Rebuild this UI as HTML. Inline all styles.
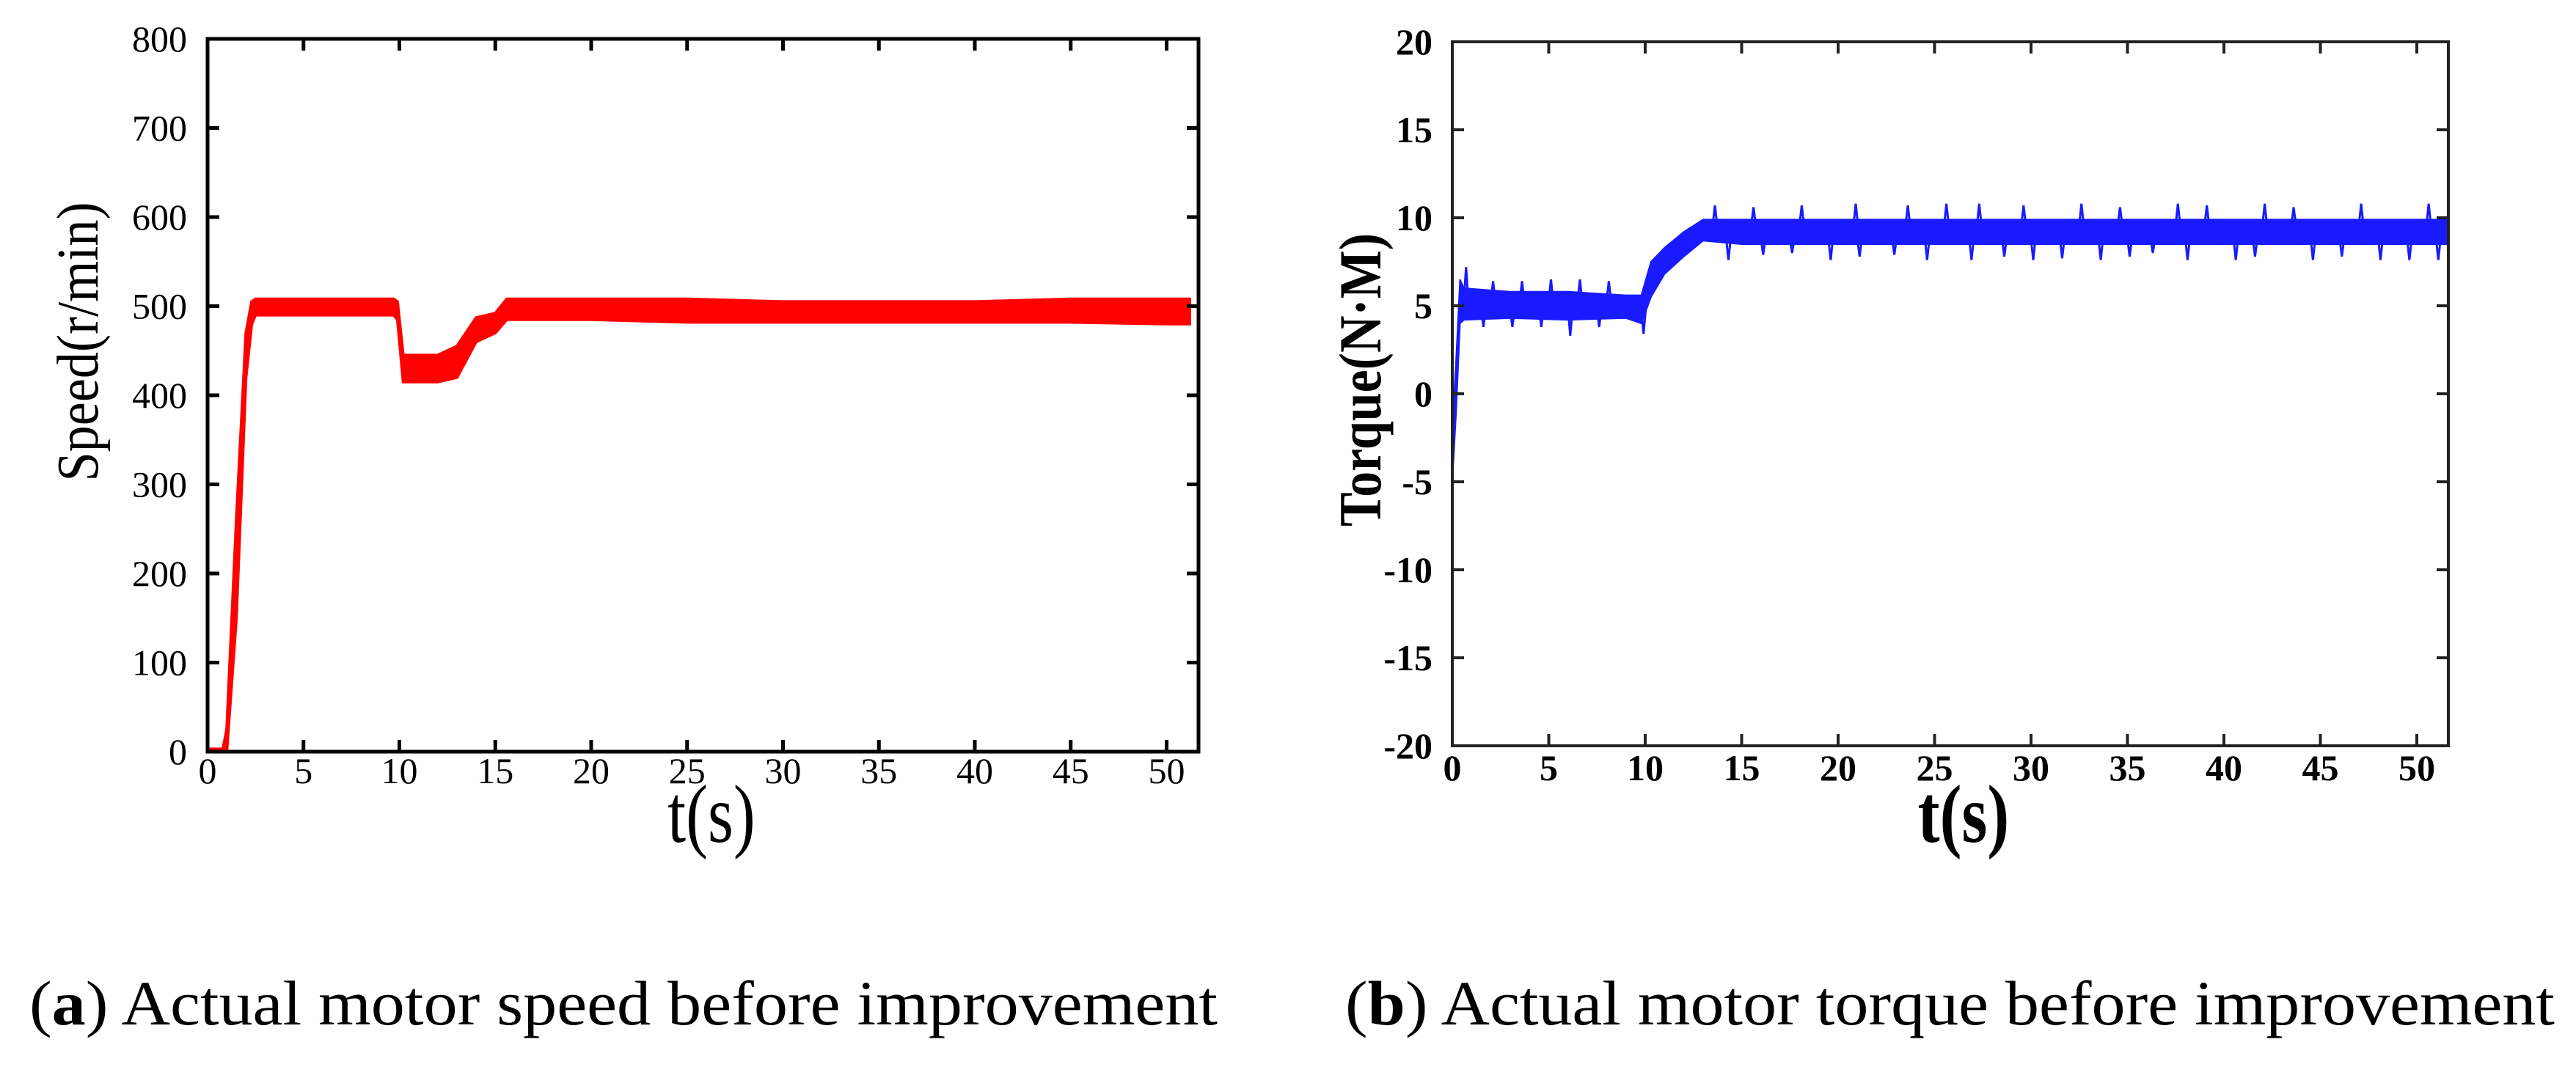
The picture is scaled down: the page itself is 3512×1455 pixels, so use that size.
<!DOCTYPE html>
<html><head><meta charset="utf-8"><style>
html,body{margin:0;padding:0;background:#fff;}
svg{display:block;}
</style></head><body>
<svg id="fig" width="3512" height="1455" viewBox="0 0 3512 1455" xmlns="http://www.w3.org/2000/svg" font-family="Liberation Serif, serif">
<rect width="3512" height="1455" fill="#fff"/>
<g id="chartA"></g>
<g id="chartB"></g>
<text x="40" y="1397" font-size="86" textLength="1620" lengthAdjust="spacingAndGlyphs">(<tspan font-weight="bold">a</tspan>) Actual motor speed before improvement</text>
<text x="1834" y="1397" font-size="86" textLength="1649" lengthAdjust="spacingAndGlyphs">(<tspan font-weight="bold">b</tspan>) Actual motor torque before improvement</text>
</svg>
<script>
// ---- data: speed chart ----
const xTicks = [0,5,10,15,20,25,30,35,40,45,50];
const speedTicks = [0,100,200,300,400,500,600,700,800];
const speedT  = [0,0.8,1.0,1.5,2.0,2.3,2.5,5,9.7,9.9,10.2,12,13,14,15,15.6,20,25,30,35,40,45,50,51.2];
const speedHi = [3,3,25,260,470,505,508,508,508,505,445,445,455,487,492,508,508,508,505,505,505,508,508,508];
const speedLo = [0,0,0,150,420,480,490,490,490,485,415,415,420,460,470,485,485,482,482,482,482,482,480,480];
// ---- data: torque chart ----
const torqueTicks = [-20,-15,-10,-5,0,5,10,15,20];
const torqueT  = [0,0.2,0.4,0.6,3,6,9,9.8,10.3,11,12,13,15,20,25,30,35,40,45,50,51.6];
const torqueHi = [-2,2,6.5,6.0,5.8,5.8,5.6,5.6,7.5,8.3,9.2,9.9,9.9,9.9,9.9,9.9,9.9,9.9,9.9,9.9,9.9];
const torqueLo = [-5,-1,4.0,4.2,4.3,4.2,4.3,4.0,5.5,6.8,7.8,8.7,8.5,8.5,8.5,8.5,8.5,8.5,8.5,8.5,8.5];
const spikeDownT = [1.5,3,4.5,6,7.5,9.8,14.2,16,17.5,19.5,21,22.8,24.5,26.8,28.5,30,31.5,33.5,35,36.2,38,40.5,41.5,44.5,46,48,49.5,51];
const spikeDownV = [3.8,3.8,3.8,3.3,3.8,3.4,7.6,7.9,8.0,7.6,7.8,7.9,7.6,7.6,7.8,7.6,7.7,7.6,7.8,8.0,7.6,7.6,7.8,7.6,7.8,7.6,7.6,7.6];
const spikeUpT = [0.6,2,3.5,5,6.5,8,13.5,15.5,18,20.8,23.5,25.5,27.2,29.5,32.5,34.5,37.5,39,42,43.5,47,50.5];
const spikeUpV = [7.2,6.4,6.4,6.5,6.5,6.4,10.7,10.6,10.7,10.8,10.7,10.8,10.8,10.7,10.8,10.6,10.8,10.7,10.8,10.6,10.8,10.8];

const NS = "http://www.w3.org/2000/svg";
function mk(tag, parent){ const e=document.createElementNS(NS,tag); parent.appendChild(e); return e; }

function drawAxes(g, L, R, T, B, xs, ys, yT, bold, lw, col, xLabY, yLabX){
  const frame = mk('rect', g);
  
  
  frame.setAttribute('x',L); frame.setAttribute('y',T);
  frame.setAttribute('width',R-L); frame.setAttribute('height',B-T);
  frame.setAttribute('fill','none'); frame.setAttribute('stroke',col); frame.setAttribute('stroke-width',lw);
  xTicks.forEach(v=>{
    const x = xs(v);
    const t1 = mk('path', g);
    
    
    t1.setAttribute('d',`M${x},${B}v-16M${x},${T}v16`); t1.setAttribute('stroke',col); t1.setAttribute('stroke-width',lw);
    const lb = mk('text', g);
    
    
    lb.setAttribute('x',x); lb.setAttribute('y',xLabY); lb.setAttribute('text-anchor','middle');
    lb.setAttribute('font-size','50'); if(bold) lb.setAttribute('font-weight','bold');
    lb.textContent = v;
  });
  yT.forEach(v=>{
    const y = ys(v);
    const t1 = mk('path', g);
    
    
    t1.setAttribute('d',`M${L},${y}h16M${R},${y}h-16`); t1.setAttribute('stroke',col); t1.setAttribute('stroke-width',lw);
    const lb = mk('text', g);
    
    
    lb.setAttribute('x',yLabX); lb.setAttribute('y',y+17); lb.setAttribute('text-anchor','end');
    lb.setAttribute('font-size','50'); if(bold) lb.setAttribute('font-weight','bold');
    lb.textContent = v;
  });
}

function band(g, ts, hi, lo, xs, ys, color, name, sw){
  let d = 'M' + ts.map((t,i)=>`${xs(t)},${ys(hi[i])}`).join('L');
  d += 'L' + ts.map((t,i)=>`${xs(t)},${ys(lo[i])}`).reverse().join('L') + 'Z';
  const p = mk('path', g);
  
  
  p.setAttribute('d', d); p.setAttribute('fill', color); p.setAttribute('stroke', color); p.setAttribute('stroke-width',sw);
  return p;
}

// ---- chart A ----
(function(){
  const g = document.getElementById('chartA');
  const L=283, R=1634, T=53, B=1025;
  const xs = v => L + v*26.15;
  const ys = v => B - v*(B-T)/800;
  band(g, speedT, speedHi, speedLo, xs, ys, '#ff0000', 'speed-series', 4);
  drawAxes(g, L, R, T, B, xs, ys, speedTicks, false, 5, '#000', 1068, 255);
  const xt = mk('text', g);
  
  
  xt.setAttribute('x',970); xt.setAttribute('y',1148); xt.setAttribute('text-anchor','middle'); xt.setAttribute('font-size','112');
  xt.setAttribute('transform','translate(970,0) scale(0.8,1) translate(-970,0)');
  xt.textContent='t(s)';
  const yt = mk('text', g);
  
  
  yt.setAttribute('x',0); yt.setAttribute('y',0); yt.setAttribute('text-anchor','middle'); yt.setAttribute('font-size','80');
  yt.setAttribute('transform','translate(133,466) rotate(-90)');
  yt.setAttribute('textLength','381'); yt.setAttribute('lengthAdjust','spacingAndGlyphs');
  yt.textContent='Speed(r/min)';
})();

// ---- chart B ----
(function(){
  const g = document.getElementById('chartB');
  const L=1980, R=3338, T=57, B=1017;
  const xs = v => L + v*26.3;
  const ys = v => B - (v+20)*(B-T)/40;
  band(g, torqueT, torqueHi, torqueLo, xs, ys, '#1a1aff', 'torque-series', 2);
  spikeDownT.forEach((t,i)=>{
    const s = mk('path', g);
    
    
    const base = t < 10 ? 4.8 : 8.8;
    s.setAttribute('d',`M${xs(t)},${ys(base)}L${xs(t)+3},${ys(spikeDownV[i])}L${xs(t)+6},${ys(base)}`);
    s.setAttribute('stroke','#1a1aff'); s.setAttribute('stroke-width','3'); s.setAttribute('fill','none');
  });
  spikeUpT.forEach((t,i)=>{
    const s = mk('path', g);
    
    
    const base = t < 10 ? 5.3 : 9.6;
    s.setAttribute('d',`M${xs(t)},${ys(base)}L${xs(t)+3},${ys(spikeUpV[i])}L${xs(t)+6},${ys(base)}`);
    s.setAttribute('stroke','#1a1aff'); s.setAttribute('stroke-width','3'); s.setAttribute('fill','none');
  });
  drawAxes(g, L, R, T, B, xs, ys, torqueTicks, true, 4, '#222', 1064, 1953);
  const xt = mk('text', g);
  
  
  xt.setAttribute('x',2677); xt.setAttribute('y',1148); xt.setAttribute('text-anchor','middle'); xt.setAttribute('font-size','112'); xt.setAttribute('font-weight','bold');
  xt.setAttribute('transform','translate(2677,0) scale(0.8,1) translate(-2677,0)');
  xt.textContent='t(s)';
  const yt = mk('text', g);
  
  
  yt.setAttribute('x',0); yt.setAttribute('y',0); yt.setAttribute('text-anchor','middle'); yt.setAttribute('font-size','82'); yt.setAttribute('font-weight','bold');
  yt.setAttribute('transform','translate(1882,518) rotate(-90)');
  yt.setAttribute('textLength','400'); yt.setAttribute('lengthAdjust','spacingAndGlyphs');
  yt.textContent='Torque(N·M)';
})();
</script>
</body></html>
